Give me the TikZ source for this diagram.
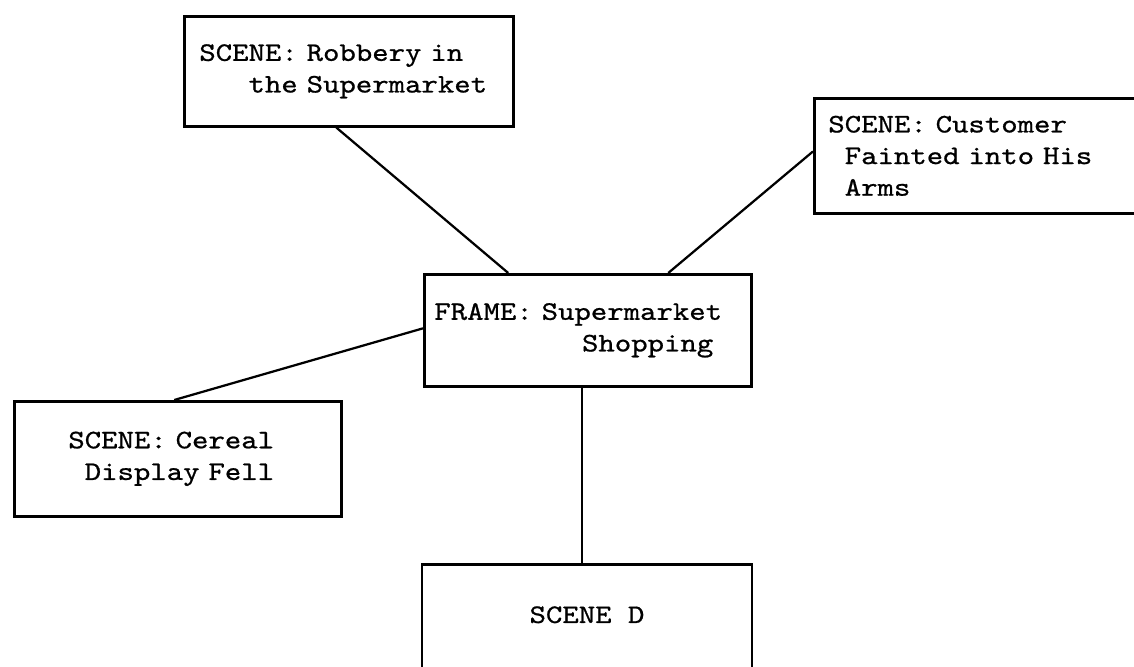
\documentclass[tikz,border=0pt]{standalone}
\usepackage{fontspec}
\usepackage{tikz}
\newfontfamily\typewriter{lmmono10-regular}[Extension=.otf,FakeStretch=1.17,FakeBold=0.8]
\newcommand{\pad}[1]{\hspace*{#1\fontcharwd\font`M}}
\newcommand{\typesize}{\typewriter\fontsize{19}{22.5}\selectfont\fontdimen2\font=\fontcharwd\font`M}

\begin{document}
\begin{tikzpicture}[
    scenebox/.style={draw, line width=1.9pt, align=left, anchor=north west,
        font=\typesize},
    link/.style={line width=1.6pt}]
    \useasboundingbox (0,0) rectangle (28.35,16.65);
    % the scenes round the frame
    \node[scenebox, text width=7.475cm, inner xsep=0.375cm, minimum height=2.75cm] (rob) at (4.575,16.275)
        {SCENE: Robbery in\\\pad{3}the Supermarket};
    \node[scenebox, text width=7.8cm, inner xsep=0.35cm, minimum height=2.875cm] (cust) at (20.325,14.225)
        {SCENE: Customer\\\pad{1}Fainted into His\\\pad{1}Arms};
    \node[scenebox, text width=7.675cm, inner xsep=0.25cm, minimum height=2.8cm] (frame) at (10.575,9.825)
        {FRAME: Supermarket\\\pad{9}Shopping};
    \node[scenebox, text width=5.475cm, inner xsep=1.35cm, minimum height=2.875cm] (cer) at (0.325,6.65)
        {SCENE: Cereal\\\pad{1}Display Fell};
    \node[scenebox, anchor=north, minimum width=8.25cm, inner ysep=1.05cm, text depth=0.5cm] (scd) at (14.675,2.575)
        {SCENE D};
    % links
    \draw[link] ([xshift=-0.31cm]rob.south) -- ([xshift=-1.99cm]frame.north);
    \draw[link] ([yshift=0.11cm]cust.west) -- ([xshift=2.01cm]frame.north);
    \draw[link] ([xshift=-0.09cm]cer.north) -- ([yshift=0.05cm]frame.west);
    \draw[link] ([xshift=-0.12cm]scd.north) -- ([xshift=-0.12cm]scd.north |- frame.south);
\end{tikzpicture}
\end{document}
